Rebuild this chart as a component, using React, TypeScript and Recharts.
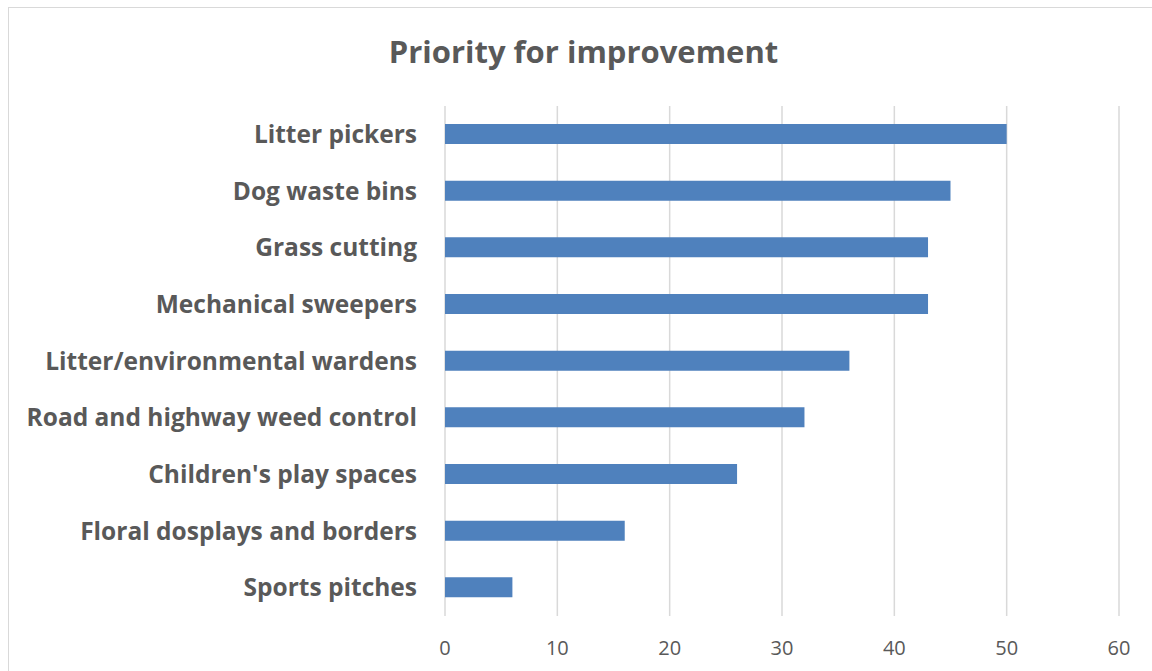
import React from 'react';
import { BarChart, Bar, XAxis, YAxis, CartesianGrid } from 'recharts';

const categories = [
  'Litter pickers',
  'Dog waste bins',
  'Grass cutting',
  'Mechanical sweepers',
  'Litter/environmental wardens',
  'Road and highway weed control',
  "Children's play spaces",
  'Floral dosplays and borders',
  'Sports pitches',
];
const values = [50, 45, 43, 43, 36, 32, 26, 16, 6];
const xTicks = [0, 10, 20, 30, 40, 50, 60];
const title = 'Priority for improvement';

const data = categories.map((name, i) => ({ name, value: values[i] }));

const FONT = '"Open Sans", sans-serif';
const TEXT = '#595959';

export default function App() {
  return (
    <div
      style={{
        position: 'absolute',
        left: 8,
        top: 7,
        width: 1144,
        height: 664,
        borderTop: '1px solid #d9d9d9',
        borderLeft: '1px solid #d9d9d9',
        overflow: 'hidden',
        background: '#fff',
        fontFamily: FONT,
      }}
    >
      <div
        style={{
          position: 'absolute',
          left: 0,
          width: 1149,
          top: 23,
          textAlign: 'center',
          fontSize: 31,
          fontWeight: 700,
          color: TEXT,
          lineHeight: '40px',
        }}
      >
        {title}
      </div>
      <BarChart
        width={1140}
        height={660}
        data={data}
        layout="vertical"
        margin={{ top: 98, right: 30, bottom: 10, left: 0 }}
      >
        <CartesianGrid horizontal={false} stroke="#d9d9d9" strokeWidth={1.5} />
        <XAxis
          type="number"
          domain={[0, 60]}
          ticks={xTicks}
          axisLine={false}
          tickLine={false}
          tickMargin={19}
          height={42}
          tick={{ fill: TEXT, fontSize: 20, fontFamily: FONT }}
        />
        <YAxis
          type="category"
          dataKey="name"
          width={436}
          axisLine={false}
          tickLine={false}
          tickMargin={22}
          interval={0}
          tick={{ fill: TEXT, fontSize: 24.5, fontWeight: 700, fontFamily: FONT }}
        />
        <Bar dataKey="value" fill="#4f81bd" barSize={20} isAnimationActive={false} />
      </BarChart>
    </div>
  );
}
